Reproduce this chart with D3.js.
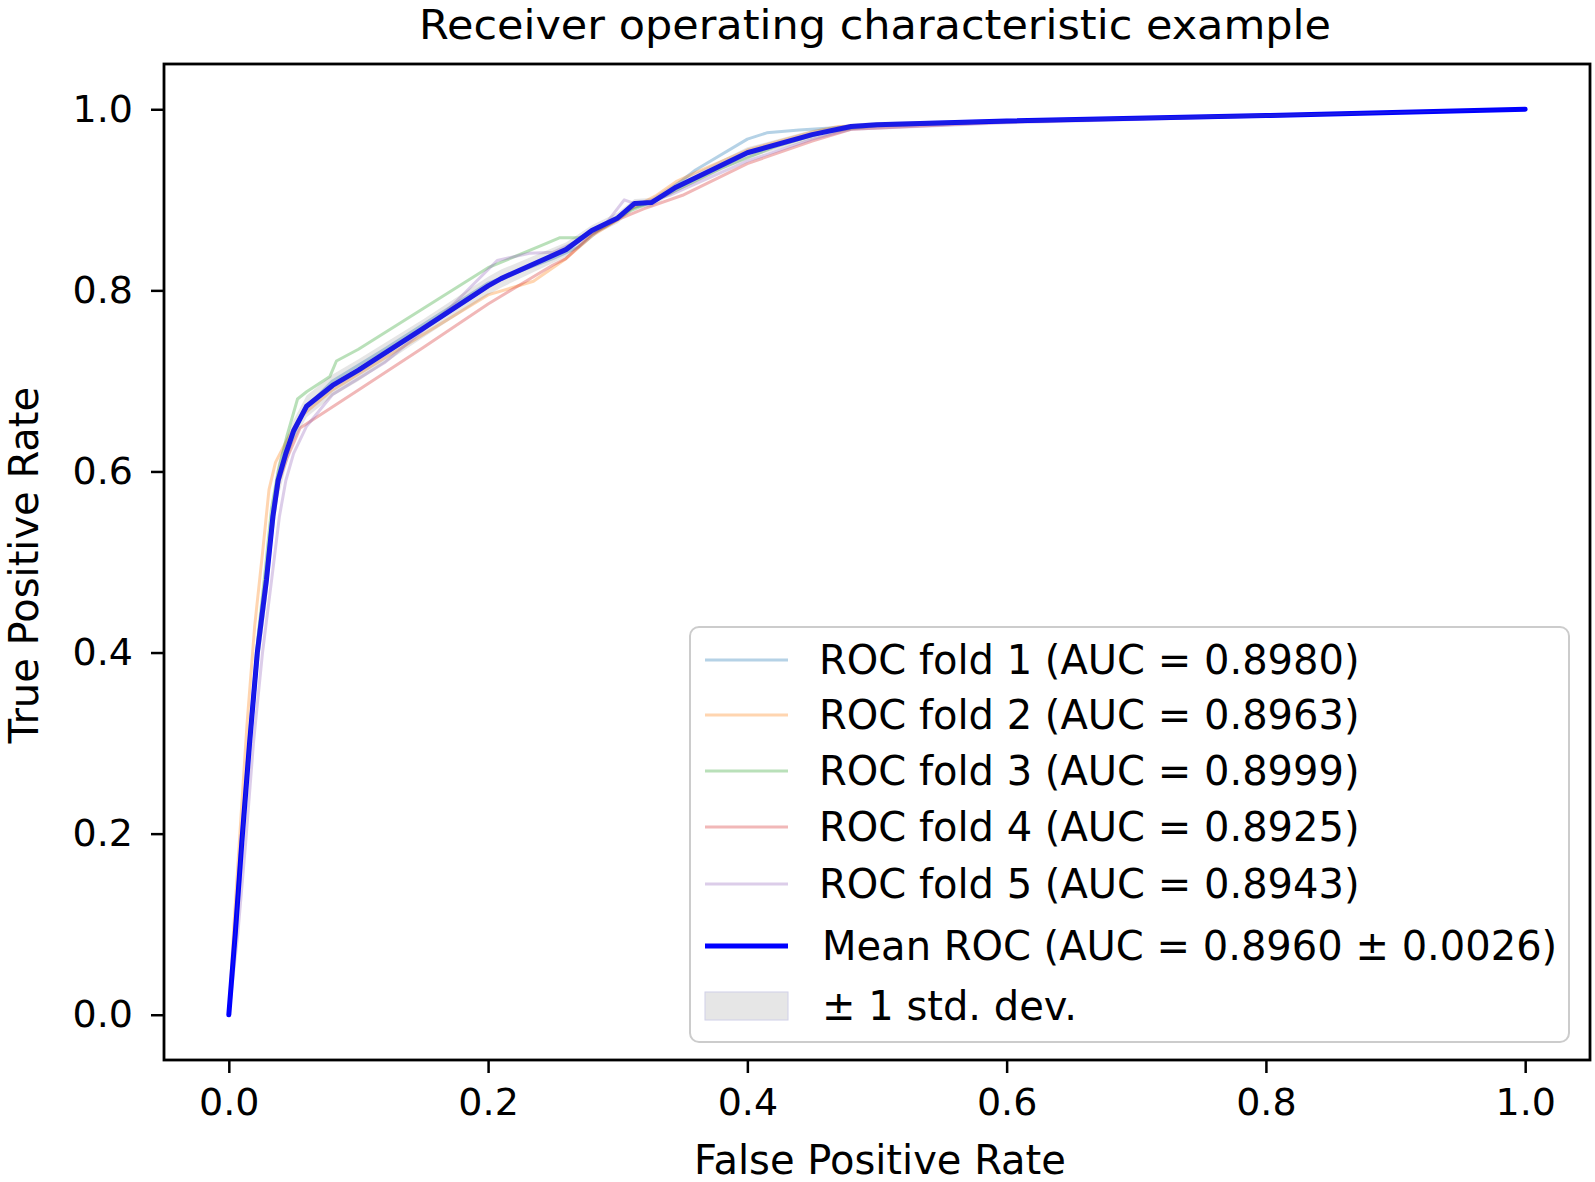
<!DOCTYPE html>
<html>
<head>
<meta charset="utf-8">
<script src="https://cdn.jsdelivr.net/npm/d3@7"></script>
<style>
  body { margin: 0; background: #fff; }
  svg { display: block; font-family: "DejaVu Sans", sans-serif; }
</style>
</head>
<body>
<svg id="chart" width="1595" height="1182"></svg>
<script>
// values, [fpr, tpr]
const fold1 = [[0,0],[0.006,0.1],[0.011,0.2],[0.017,0.31],[0.023,0.41],[0.03,0.49],[0.035,0.56],[0.04,0.6],[0.05,0.64],[0.058,0.668],[0.08,0.7],[0.12,0.735],[0.2,0.808],[0.25,0.835],[0.27,0.848],[0.29,0.872],[0.31,0.89],[0.33,0.9],[0.36,0.933],[0.4,0.967],[0.415,0.974],[0.44,0.977],[0.47,0.98],[0.5,0.983],[0.7,0.99],[1,1]]
const fold2 = [[0,0],[0.004,0.1],[0.009,0.21],[0.014,0.32],[0.02,0.43],[0.026,0.51],[0.031,0.58],[0.036,0.61],[0.045,0.635],[0.055,0.66],[0.08,0.69],[0.12,0.725],[0.2,0.795],[0.235,0.81],[0.25,0.825],[0.26,0.835],[0.28,0.86],[0.3,0.878],[0.31,0.89],[0.33,0.905],[0.345,0.92],[0.36,0.93],[0.4,0.955],[0.45,0.975],[0.47,0.981],[0.6,0.987],[1,1]]
const fold3 = [[0,0],[0.005,0.1],[0.01,0.2],[0.016,0.31],[0.022,0.41],[0.028,0.49],[0.033,0.56],[0.038,0.6],[0.045,0.64],[0.053,0.68],[0.06,0.688],[0.078,0.705],[0.083,0.722],[0.1,0.735],[0.15,0.78],[0.2,0.825],[0.245,0.852],[0.255,0.858],[0.27,0.858],[0.29,0.87],[0.31,0.888],[0.33,0.9],[0.38,0.935],[0.42,0.958],[0.46,0.975],[0.5,0.982],[0.7,0.99],[1,1]]
const fold4 = [[0,0],[0.005,0.09],[0.01,0.19],[0.016,0.3],[0.022,0.4],[0.029,0.48],[0.034,0.55],[0.039,0.59],[0.045,0.615],[0.055,0.648],[0.1,0.69],[0.15,0.737],[0.2,0.785],[0.25,0.828],[0.26,0.835],[0.28,0.862],[0.3,0.878],[0.32,0.89],[0.35,0.905],[0.4,0.94],[0.45,0.965],[0.48,0.978],[0.6,0.986],[1,1]]
const fold5 = [[0,0],[0.007,0.09],[0.013,0.19],[0.019,0.3],[0.026,0.4],[0.033,0.48],[0.039,0.55],[0.044,0.59],[0.05,0.62],[0.06,0.65],[0.08,0.685],[0.12,0.72],[0.17,0.78],[0.207,0.833],[0.232,0.841],[0.25,0.842],[0.27,0.855],[0.29,0.872],[0.305,0.9],[0.315,0.895],[0.34,0.905],[0.4,0.943],[0.45,0.967],[0.48,0.978],[0.6,0.985],[1,1]]

const meanFpr = [0, 0.005, 0.01, 0.016, 0.022, 0.029, 0.034, 0.038, 0.044, 0.05, 0.06, 0.08, 0.1, 0.15, 0.2, 0.21, 0.26, 0.28, 0.3, 0.313, 0.326, 0.345, 0.4, 0.45, 0.48, 0.5, 0.6, 0.8, 1]
const meanTpr = [0, 0.09, 0.19, 0.3, 0.4, 0.48, 0.55, 0.59, 0.62, 0.645, 0.672, 0.695, 0.712, 0.758, 0.805, 0.813, 0.845, 0.866, 0.88, 0.896, 0.897, 0.914, 0.952, 0.972, 0.981, 0.983, 0.987, 0.993, 1]
const meanStd = [0, 0.01, 0.02, 0.025, 0.025, 0.025, 0.022, 0.02, 0.015, 0.012, 0.012, 0.012, 0.012, 0.01, 0.01, 0.01, 0.008, 0.006, 0.006, 0.005, 0.005, 0.005, 0.006, 0.005, 0.003, 0.003, 0.002, 0.002, 0]

const foldAuc = ['0.8980', '0.8963', '0.8999', '0.8925', '0.8943']
const meanLabel = 'Mean ROC (AUC = 0.8960 \u00b1 0.0026)'
const stdLabel = '\u00b1 1 std. dev.'
const xTicks = [0, 0.2, 0.4, 0.6, 0.8, 1.0]
const yTicks = [0, 0.2, 0.4, 0.6, 0.8, 1.0]
const foldColors = ['#1f77b4', '#ff7f0e', '#2ca02c', '#d62728', '#9467bd']

const svg = d3.select('#chart')
const plot = { left: 164, right: 1590, top: 64, bottom: 1060 }

const x = d3.scaleLinear().domain([-0.05, 1.05]).range([plot.left, plot.right])
const y = d3.scaleLinear().domain([-0.05, 1.05]).range([plot.bottom, plot.top])

const line = d3.line().x(d => x(d[0])).y(d => y(d[1]))

// fold curves
const folds = [fold1, fold2, fold3, fold4, fold5]
svg.append('g').selectAll('path').data(folds).enter().append('path')
    .attr('d', line)
    .attr('fill', 'none')
    .attr('stroke', (d, i) => foldColors[i])
    .attr('stroke-opacity', 0.33)
    .attr('stroke-width', 3)
    .attr('stroke-linejoin', 'round')

// mean curve
const mean = meanFpr.map((f, i) => [f, meanTpr[i]])
svg.append('path')
    .attr('d', line(mean))
    .attr('fill', 'none')
    .attr('stroke', '#0000ff')
    .attr('stroke-width', 5)
    .attr('stroke-linejoin', 'round')
    .attr('stroke-linecap', 'round')

// std band
const band = d3.area()
    .x((d, i) => x(meanFpr[i]))
    .y0((d, i) => y(Math.max(meanTpr[i] - meanStd[i], 0)))
    .y1((d, i) => y(Math.min(meanTpr[i] + meanStd[i], 1)))
svg.append('path')
    .attr('d', band(meanFpr))
    .attr('fill', 'grey')
    .attr('fill-opacity', 0.2)

// axes
const xAxis = d3.axisBottom(x).tickValues(xTicks).tickFormat(d3.format('.1f'))
    .tickSize(13).tickSizeOuter(0).tickPadding(15)
const yAxis = d3.axisLeft(y).tickValues(yTicks).tickFormat(d3.format('.1f'))
    .tickSize(13).tickSizeOuter(0).tickPadding(18)

const gx = svg.append('g').attr('transform', `translate(0,${plot.bottom})`).call(xAxis)
const gy = svg.append('g').attr('transform', `translate(${plot.left},0)`).call(yAxis)
;[gx, gy].forEach(g => {
    g.select('.domain').remove()
    g.selectAll('line').attr('stroke', '#000').attr('stroke-width', 2.5)
    g.selectAll('text').attr('font-size', 38).attr('fill', '#000')
        .attr('font-family', '"DejaVu Sans", sans-serif')
})

svg.append('rect')
    .attr('x', plot.left).attr('y', plot.top)
    .attr('width', plot.right - plot.left).attr('height', plot.bottom - plot.top)
    .attr('fill', 'none').attr('stroke', '#000').attr('stroke-width', 2.8)

// texts
svg.append('text')
    .attr('x', 875).attr('y', 39)
    .attr('text-anchor', 'middle').attr('font-size', 40)
    .attr('textLength', 912).attr('lengthAdjust', 'spacingAndGlyphs')
    .text('Receiver operating characteristic example')

svg.append('text')
    .attr('x', 880).attr('y', 1174)
    .attr('text-anchor', 'middle').attr('font-size', 40)
    .text('False Positive Rate')

svg.append('text')
    .attr('transform', 'translate(38,565) rotate(-90)')
    .attr('text-anchor', 'middle').attr('font-size', 40)
    .text('True Positive Rate')

// legend
const legend = svg.append('g')
legend.append('rect')
    .attr('x', 690).attr('y', 627).attr('width', 879).attr('height', 415)
    .attr('rx', 9).attr('ry', 9)
    .attr('fill', '#fff').attr('fill-opacity', 0.8)
    .attr('stroke', '#cccccc').attr('stroke-width', 2)

const rowsY = [660, 715, 771, 827, 884]
foldAuc.forEach((auc, i) => {
    legend.append('line')
        .attr('x1', 705).attr('x2', 788)
        .attr('y1', rowsY[i]).attr('y2', rowsY[i])
        .attr('stroke', foldColors[i]).attr('stroke-opacity', 0.33).attr('stroke-width', 3)
    legend.append('text')
        .attr('x', 819).attr('y', rowsY[i] + 14).attr('font-size', 40)
        .text(`ROC fold ${i + 1} (AUC = ${auc})`)
})

legend.append('line')
    .attr('x1', 705).attr('x2', 788).attr('y1', 946).attr('y2', 946)
    .attr('stroke', '#0000ff').attr('stroke-width', 5)
legend.append('text')
    .attr('x', 822).attr('y', 960).attr('font-size', 40)
    .text(meanLabel)

legend.append('rect')
    .attr('x', 705).attr('y', 992).attr('width', 83).attr('height', 28)
    .attr('fill', 'grey').attr('fill-opacity', 0.2)
    .attr('stroke', '#d0d0e8').attr('stroke-width', 1)
legend.append('text')
    .attr('x', 822).attr('y', 1020).attr('font-size', 40)
    .text(stdLabel)
</script>
</body>
</html>
